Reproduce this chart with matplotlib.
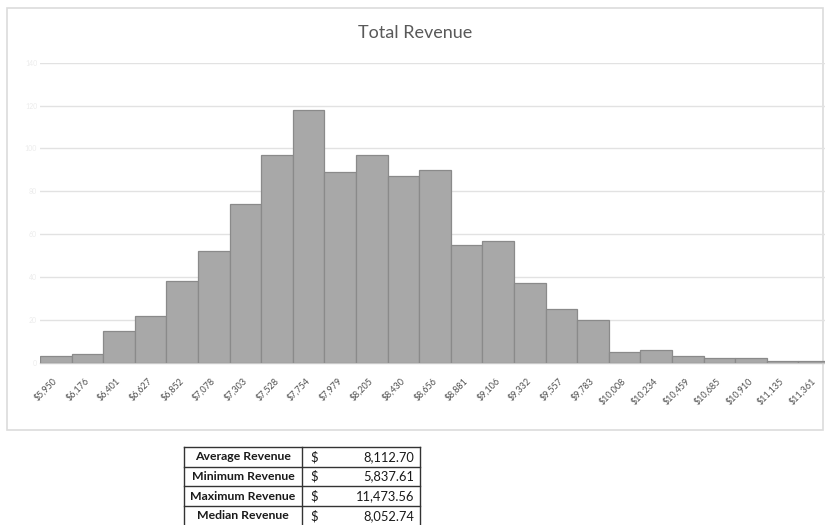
import matplotlib.pyplot as plt
from matplotlib.patches import Rectangle
from matplotlib.lines import Line2D

# histogram of simulated total revenue (1000 trials)
bin_labels = ['$5,950', '$6,176', '$6,401', '$6,627', '$6,852', '$7,078', '$7,303',
              '$7,528', '$7,754', '$7,979', '$8,205', '$8,430', '$8,656', '$8,881',
              '$9,106', '$9,332', '$9,557', '$9,783', '$10,008', '$10,234', '$10,459',
              '$10,685', '$10,910', '$11,135', '$11,361']
counts = [3, 4, 15, 22, 38, 52, 74, 97, 118, 89, 97, 87, 90, 55,
          57, 37, 25, 20, 5, 6, 3, 2, 2, 1, 1]
y_ticks = [0, 20, 40, 60, 80, 100, 120, 140]

# summary table
stat_names = ['Average Revenue', 'Minimum Revenue', 'Maximum Revenue', 'Median Revenue']
stat_values = ['8,112.70', '5,837.61', '11,473.56', '8,052.74']

plt.rcParams['font.family'] = ['Lato', 'DejaVu Sans']

W, H = 825, 525
fig = plt.figure(figsize=(W / 100, H / 100), dpi=100)
fig.patch.set_facecolor('white')

# overlay in pixel units for the chart frame and the table
over = fig.add_axes([0, 0, 1, 1], zorder=0)
over.set_xlim(0, W)
over.set_ylim(H, 0)
over.axis('off')
over.add_patch(Rectangle((7, 8), 816, 422, fill=False, edgecolor='#dcdcdc', lw=1.2))

# histogram axes
left, right, top, bottom = 40, 830, 62.7, 362.7
ax = fig.add_axes([left / W, 1 - bottom / H, (right - left) / W, (bottom - top) / H], zorder=1)
ax.patch.set_alpha(0)
x = list(range(len(counts)))
ax.bar(x, counts, width=1.0, color='#a8a8a8', edgecolor='#8a8a8a', linewidth=0.9, zorder=3)
ax.set_xlim(-0.5, len(counts) - 0.5)
ax.set_ylim(0, 140)
ax.set_yticks(y_ticks)
ax.set_yticklabels([str(t) for t in y_ticks], fontsize=5, color='#ececec')
ax.grid(axis='y', color='#e2e2e2', linewidth=1.0, zorder=0)
for s in ['top', 'right', 'left']:
    ax.spines[s].set_visible(False)
ax.spines['bottom'].set_color('#c8c8c8')
ax.spines['bottom'].set_linewidth(1.0)
ax.tick_params(axis='both', length=0)
ax.tick_params(axis='y', pad=2)
ax.set_xticks(x)
ax.set_xticklabels(bin_labels, rotation=45, ha='right', va='center',
                   rotation_mode='anchor', fontsize=6.5, color='#505050')
ax.tick_params(axis='x', pad=12)

fig.text(415 / W, 1 - 33 / H, 'Total Revenue', ha='center', va='center',
         fontsize=13, color='#595959')

# summary table
t_left, t_mid, t_right = 184, 302, 420
t_top, row_h = 447, 19.7
n = len(stat_names)
lc = '#333333'
for i in range(n + 1):
    yy = t_top + i * row_h
    over.add_line(Line2D([t_left, t_right], [yy, yy], color=lc, lw=1.0))
for xx in (t_left, t_mid, t_right):
    over.add_line(Line2D([xx, xx], [t_top, t_top + n * row_h], color=lc, lw=1.0))
for i, (name, val) in enumerate(zip(stat_names, stat_values)):
    yc = t_top + (i + 0.5) * row_h
    over.text((t_left + t_mid) / 2, yc, name, ha='center', va='center',
              fontsize=8.8, fontweight='bold', color='#1a1a1a')
    over.text(t_mid + 8, yc, '$', ha='left', va='center', fontsize=9.5, color='#1a1a1a')
    over.text(t_right - 6, yc, val, ha='right', va='center', fontsize=9.3, color='#1a1a1a')

fig.savefig('out.png', dpi=100)
